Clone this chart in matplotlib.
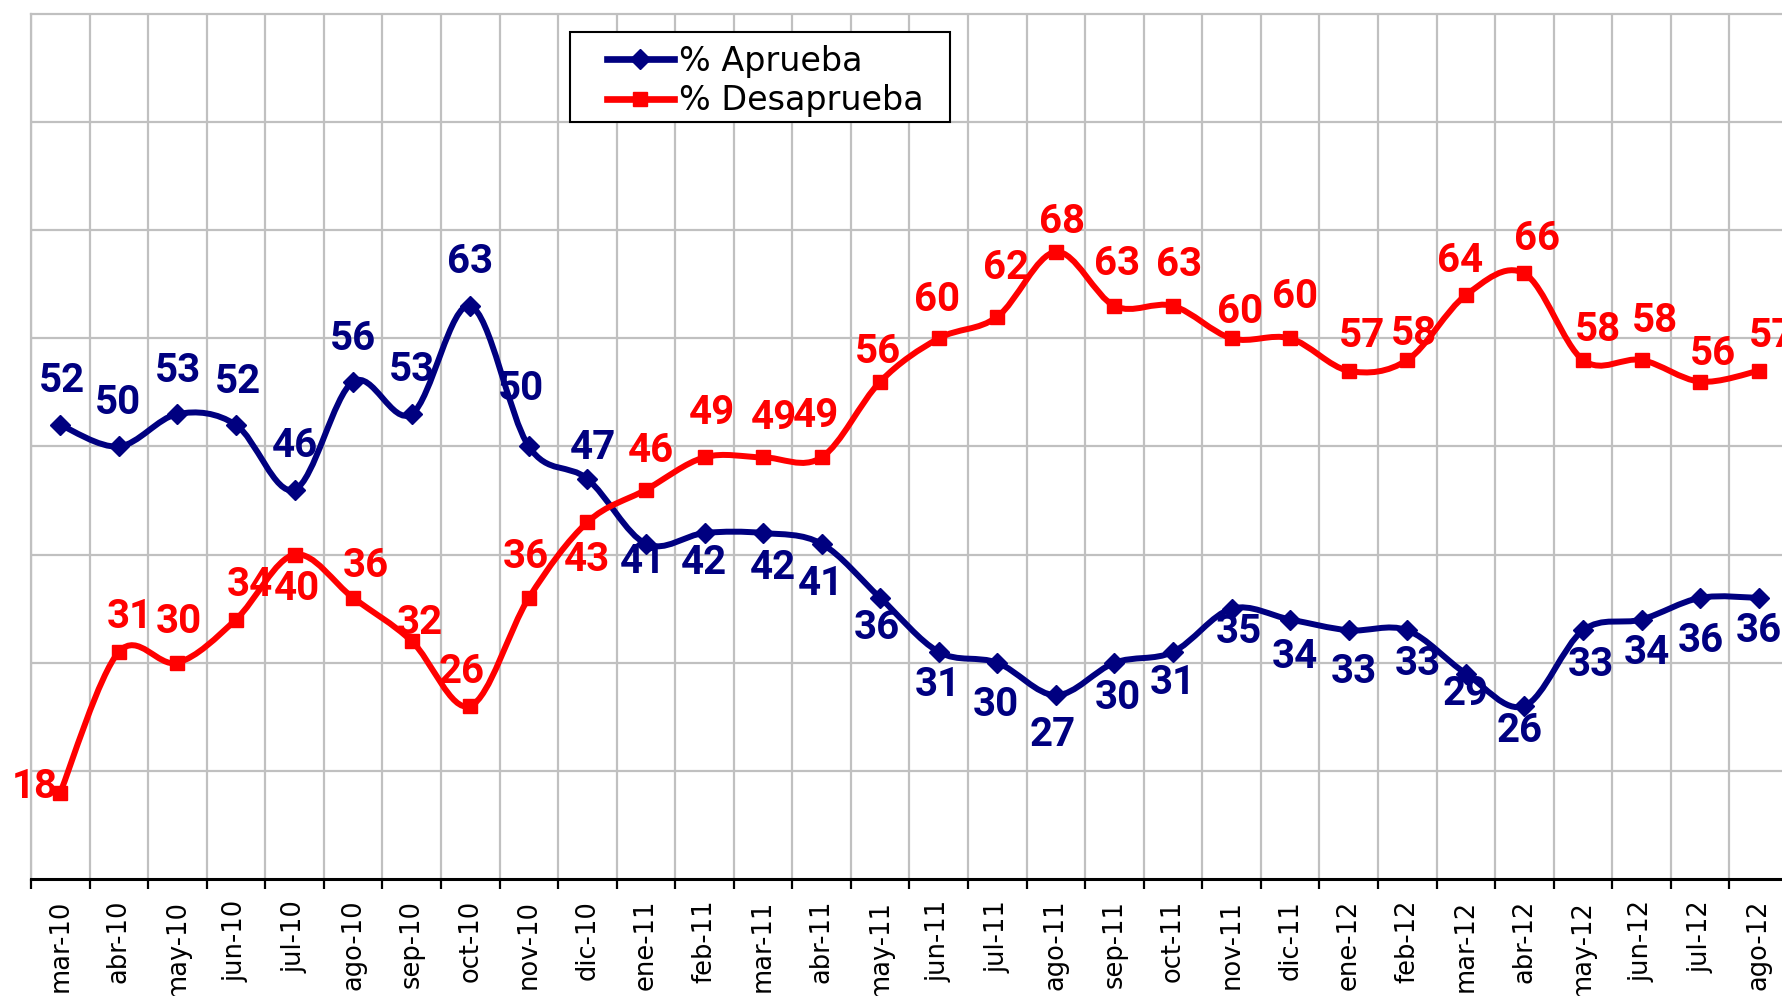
import numpy as np
import matplotlib
matplotlib.use("Agg")
import matplotlib.pyplot as plt
from matplotlib.path import Path
from matplotlib.patches import PathPatch, Rectangle
from matplotlib.lines import Line2D

months = ["mar-10", "abr-10", "may-10", "jun-10", "jul-10", "ago-10", "sep-10",
          "oct-10", "nov-10", "dic-10", "ene-11", "feb-11", "mar-11", "abr-11",
          "may-11", "jun-11", "jul-11", "ago-11", "sep-11", "oct-11", "nov-11",
          "dic-11", "ene-12", "feb-12", "mar-12", "abr-12", "may-12", "jun-12",
          "jul-12", "ago-12"]
aprueba = [52, 50, 53, 52, 46, 56, 53, 63, 50, 47, 41, 42, 42, 41, 36,
           31, 30, 27, 30, 31, 35, 34, 33, 33, 29, 26, 33, 34, 36, 36]
desaprueba = [18, 31, 30, 34, 40, 36, 32, 26, 36, 43, 46, 49, 49, 49, 56,
              60, 62, 68, 63, 63, 60, 60, 57, 58, 64, 66, 58, 58, 56, 57]

# label offsets (pixels) from each point
apr_off = [(2, 44), (-1, 43), (1, 43), (2, 43), (0, 44), (0, 43), (0, 44), (0, 44),
           (-8, 58), (6, 31), (-3, -18), (-1, -30), (10, -35), (-1, -40), (-3, -30),
           (-1, -33), (-1, -42), (-3, -40), (3, -35), (0, -31), (7, -23), (5, -38),
           (5, -42), (11, -34), (0, -20), (-5, -25), (8, -35), (5, -34), (1, -43), (0, -33)]
des_off = [(-25, 5), (11, 35), (1, 41), (14, 34), (2, -34), (13, 32), (8, 18), (-9, 34),
           (-3, 41), (0, -38), (5, 39), (7, 44), (11, 39), (-6, 41), (-2, 30),
           (-2, 38), (9, 49), (6, 30), (3, 42), (6, 41), (8, 26), (5, 41),
           (13, 35), (7, 26), (-6, 34), (13, 35), (15, 30), (13, 39), (13, 28), (13, 35)]

NAVY = "#000080"
RED = "#FF0000"
GRID = "#C0C0C0"


def smooth_path(x, y):
    # Catmull-Rom style bezier through the points (like Excel smoothed lines)
    pts = np.column_stack([x, y]).astype(float)
    n = len(pts)
    verts = [pts[0]]
    codes = [Path.MOVETO]
    for i in range(n - 1):
        p0 = pts[max(i - 1, 0)]
        p1 = pts[i]
        p2 = pts[i + 1]
        p3 = pts[min(i + 2, n - 1)]
        verts += [p1 + (p2 - p0) / 6, p2 - (p3 - p1) / 6, p2]
        codes += [Path.CURVE4] * 3
    return Path(verts, codes)


fig = plt.figure(figsize=(17.83, 9.96), dpi=100)
ax = fig.add_axes([31 / 1783, 1 - 879 / 996, (1788 - 31) / 1783, (879 - 14) / 996])

x = np.arange(len(months))
ax.set_xlim(-0.5, len(months) - 0.5)
ax.set_ylim(10, 90)

for vals, color, marker, ms, offs, z in [
        (aprueba, NAVY, "D", 10, apr_off, 3),
        (desaprueba, RED, "s", 10.5, des_off, 4)]:
    ax.add_patch(PathPatch(smooth_path(x, vals), facecolor="none", edgecolor=color,
                           lw=4.3, zorder=z, capstyle="round", joinstyle="round"))
    ax.plot(x, vals, linestyle="none", marker=marker, markersize=ms, color=color, zorder=z)
    for xi, v, (dx, dy) in zip(x, vals, offs):
        ax.annotate(str(v), (xi, v), xytext=(dx, dy), textcoords="offset pixels",
                    ha="center", va="center", fontsize=29, fontweight="bold",
                    family="Roboto", color=color, zorder=6, annotation_clip=False)

# grid and axes styling
ax.set_yticks(np.arange(20, 90, 10))
ax.tick_params(axis="y", left=False, labelleft=False)
ax.set_xticks(x)
ax.set_xticklabels(months, rotation=90, fontsize=18.5, family="DejaVu Sans")
ax.set_xticks(np.arange(-0.5, len(months), 1), minor=True)
ax.tick_params(axis="x", which="major", length=0, pad=15)
ax.tick_params(axis="x", which="minor", length=7, width=1.6, direction="out", color="black")
ax.grid(True, axis="y", which="major", color=GRID, lw=1.6, zorder=0)
ax.grid(True, axis="x", which="minor", color=GRID, lw=1.6, zorder=0)
ax.set_axisbelow(True)
for s in ["top", "left", "right"]:
    ax.spines[s].set_color(GRID)
    ax.spines[s].set_linewidth(1.6)
ax.spines["bottom"].set_color("black")
ax.spines["bottom"].set_linewidth(2.2)

# legend
handles = [Line2D([], [], color=NAVY, lw=4.8, marker="D", markersize=10),
           Line2D([], [], color=RED, lw=4.8, marker="s", markersize=10)]
ax.legend(handles, ["% Aprueba", "% Desaprueba"], loc="upper left",
          bbox_to_anchor=((607 - 31) / 1757, (879 - 45) / 865), borderaxespad=0,
          borderpad=0, frameon=False, fontsize=24, handlelength=2.0,
          handletextpad=0.15, labelspacing=0.19)
ax.add_patch(Rectangle(((570 - 31) / 1757, (879 - 122) / 865), 380 / 1757, 90 / 865,
                       transform=ax.transAxes, facecolor="white", edgecolor="black",
                       lw=1.5, zorder=5, clip_on=False))
ax.get_legend().set_zorder(7)

fig.savefig("out.png", dpi=100)
